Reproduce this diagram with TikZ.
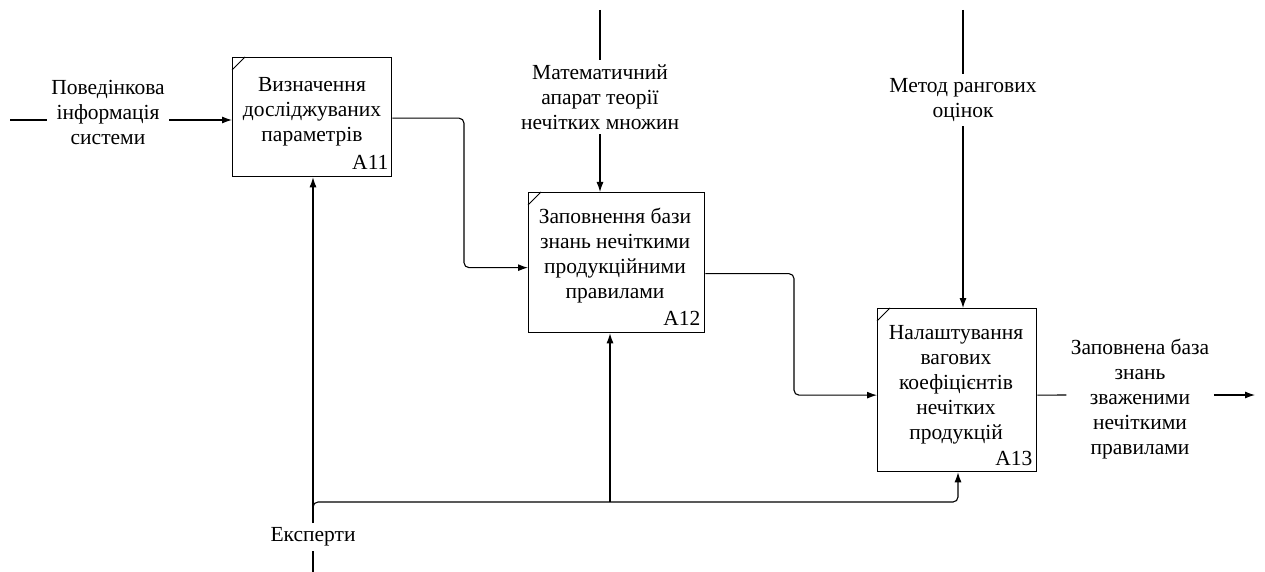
\documentclass[tikz,border=0pt]{standalone}
\usepackage{fontspec}
\setmainfont{Liberation Serif}
\newfontfamily\diafont{Liberation Serif}
\usetikzlibrary{arrows.meta}
\begin{document}
\begin{tikzpicture}[x=1pt,y=-1pt,line width=1.1pt,
  box/.style={draw,line width=1.3pt,inner sep=0pt,anchor=north west},
  lbl/.style={align=center,font=\diafont\fontsize{21.5}{25}\selectfont,inner sep=4pt},
  num/.style={font=\diafont\fontsize{21.5}{25}\selectfont,inner sep=0pt,anchor=base east},
  arr/.style={-{Latex[length=10pt,width=7pt]}},
  conn/.style={rounded corners=5pt}]
\useasboundingbox (0,0) rectangle (1265,572);
\fill[white] (0,0) rectangle (1265,572);
% boxes
\node[box,minimum width=159pt,minimum height=119pt] (A11) at (232,57) {};
\node[box,minimum width=176pt,minimum height=140pt] (A12) at (528,192) {};
\node[box,minimum width=159pt,minimum height=163pt] (A13) at (877,308) {};
\foreach \b in {A11,A12,A13}{\draw[line width=0.8pt] (\b.north west) ++(0,13) -- ++(13,-13);}
% box texts
\node[lbl] (t11) at (312,112) {Визначення\\досліджуваних\\параметрів};
\node[lbl] (t12) at (615,256) {Заповнення бази\\знань нечіткими\\продукційними\\правилами};
\node[lbl] (t13) at (956,385) {Налаштування\\вагових\\коефіцієнтів\\нечітких\\продукцій};
\node[num] (n11) at (389,170) {A11};
\node[num] (n12) at (701,325) {A12};
\node[num] (n13) at (1033,465) {A13};
% input
\node[lbl] (tin) at (108,112) {Поведінкова\\інформація\\системи};
\coordinate (in1) at (10,120);
\draw (in1) -- (in1 -| tin.west);
\draw[arr] (in1 -| tin.east) -- (in1 -| A11.west);
% A11 -> A12
\draw[arr,conn] ([yshift=-1pt]A11.east) -| (464,200) |- ([yshift=-5pt]A12.west);
% A12 -> A13
\draw[arr,conn] ([yshift=-11pt]A12.east) -| (794,330) |- ([yshift=-5pt]A13.west);
% controls
\node[lbl] (tc1) at (600,97) {Математичний\\апарат теорії\\нечітких множин};
\coordinate (c1) at (600,10);
\draw (c1) -- (c1 |- tc1.north);
\draw[arr] (tc1.south) -- (tc1.south |- A12.north);
\node[lbl] (tc2) at (963,100) {Метод рангових\\оцінок};
\coordinate (c2) at (963,10);
\draw (c2) -- (c2 |- tc2.north);
\draw[arr] (tc2.south) -- (tc2.south |- A13.north);
% output
\node[lbl] (tout) at (1140,399) {Заповнена база\\знань\\зваженими\\нечіткими\\правилами};
\coordinate (o1) at (1255,395);
\draw ([yshift=-5pt]A13.east) -- (o1 -| tout.west);
\draw[arr] (o1 -| tout.east) -- (o1);
% mechanism
\node[lbl] (tm) at (313,537) {Експерти};
\coordinate (m0) at (313,572);
\draw (m0) -- (tm.south);
\draw[arr] (tm.north) -- (tm.north |- A11.south);
\coordinate (j1) at (313,512);
\coordinate (h1) at (958,502);
\coordinate (h2) at (610,502);
\draw[arr,conn] (j1) |- (h1) -- (h1 |- A13.south);
\draw[arr] (h2) -- (h2 |- A12.south);
\end{tikzpicture}
\end{document}
